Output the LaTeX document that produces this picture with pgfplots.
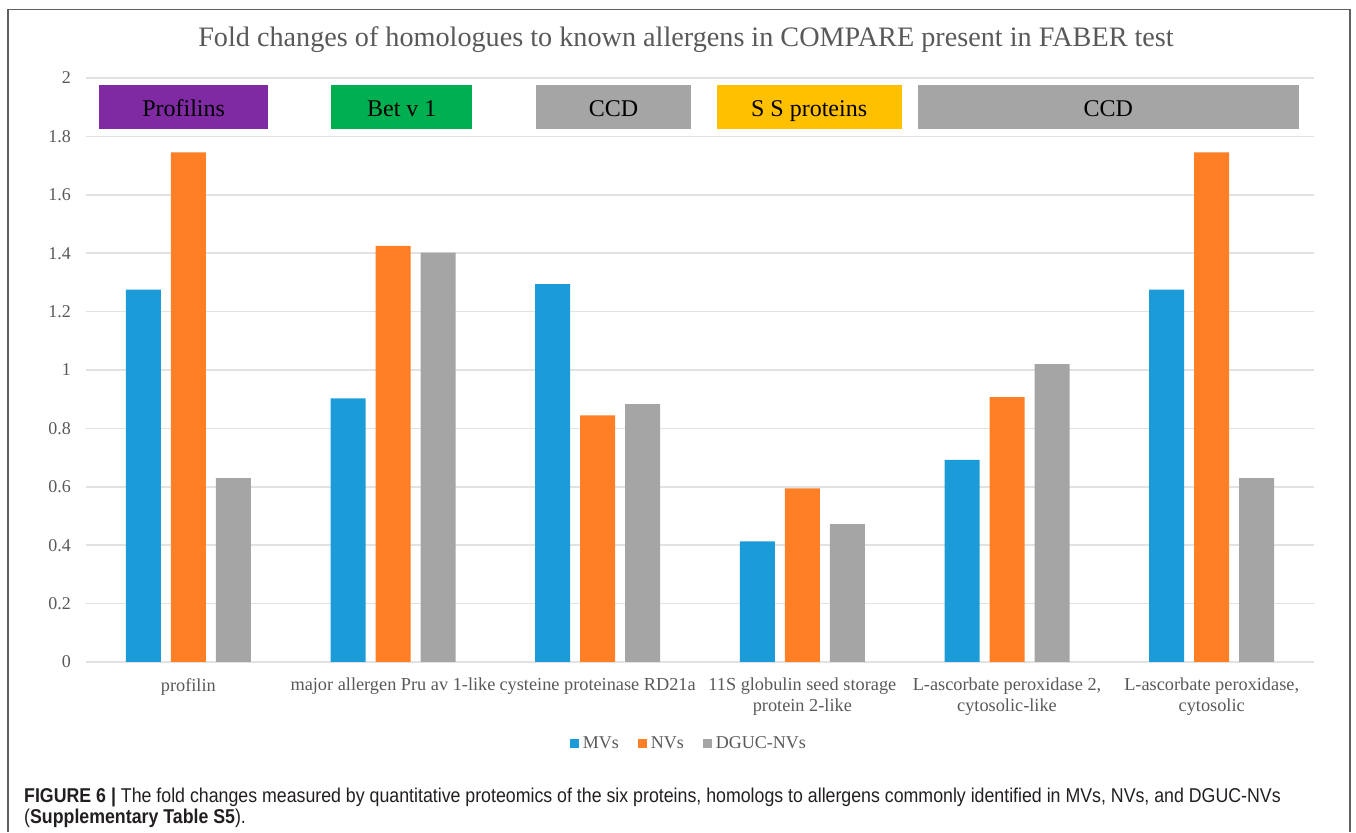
\documentclass[border=0pt]{standalone}
\usepackage{pgfplots}
\pgfplotsset{compat=1.18}
\usepackage{fontspec}
\setmainfont{Liberation Serif}
\newfontfamily\capfont[FakeStretch=0.888]{Liberation Sans}
\definecolor{cblue}{HTML}{1B9BD7}
\definecolor{corange}{HTML}{FF7F27}
\definecolor{cgray}{HTML}{A5A5A5}
\definecolor{cpurple}{HTML}{7F2AA3}
\definecolor{cgreen}{HTML}{00B050}
\definecolor{cyellow}{HTML}{FFC000}
\definecolor{tickgray}{HTML}{595959}
\definecolor{gridgray}{HTML}{E2E2E2}
\definecolor{framegray}{HTML}{606060}
\definecolor{captext}{HTML}{231F20}

\pgfplotstableread{
x MVs NVs DGUC
0 1.275 1.745 0.630
1 0.903 1.425 1.402
2 1.294 0.845 0.883
3 0.413 0.595 0.472
4 0.692 0.907 1.020
5 1.275 1.745 0.630
}\datatable

\begin{document}
\begin{tikzpicture}
\path[use as bounding box] (0pt,0pt) rectangle (1356pt,832pt);
\draw[color=framegray, line width=1.3pt] (8pt,0pt) -- (8pt,822.5pt) -- (1350pt,822.5pt) -- (1350pt,0pt);
\node[anchor=base, font=\fontsize{28.2}{32}\selectfont, text=tickgray, inner sep=0pt] at (686pt,785pt) {Fold changes of homologues to known allergens in COMPARE present in FABER test};

\begin{axis}[
  at={(86pt,170pt)}, anchor=south west,
  scale only axis, width=1228pt, height=584pt,
  xmin=-0.5, xmax=5.5, ymin=0, ymax=2,
  ybar=10pt, bar width=35pt,
  axis x line=bottom, axis y line=left,
  axis line style={-},
  x axis line style={draw=gridgray, line width=1.6pt},
  y axis line style={draw=none},
  major tick length=0pt,
  ytick={0,0.2,...,2.01},
  ymajorgrids, major grid style={draw=gridgray, line width=1.6pt},
  /pgf/number format/assume math mode=true,
  /pgf/number format/fixed,
  /pgf/number format/precision=1,
  yticklabel style={font=\fontsize{18}{21}\selectfont, text=tickgray, anchor=east, inner sep=0pt, xshift=-15pt},
  xtick={0,1,2,3,4,5},
  xticklabels={{profilin}, {major allergen Pru av 1-like}, {cysteine proteinase RD21a}, {11S globulin seed storage\\protein 2-like}, {L-ascorbate peroxidase 2,\\cytosolic-like}, {L-ascorbate peroxidase,\\cytosolic}},
  xticklabel style={font=\fontsize{18.3}{21}\selectfont, text=tickgray, align=center, anchor=north, inner sep=0pt, yshift=-16pt},
  legend columns=3,
  legend style={at={(0.491,-0.1387)}, anchor=center, draw=none, font=\fontsize{18}{21}\selectfont, text=tickgray,
    /tikz/every odd column/.append style={column sep=2pt},
    /tikz/every even column/.append style={column sep=17pt}},
  legend image code/.code={\fill[#1] (0pt,-4.5pt) rectangle (9pt,4.5pt);},
]
\addplot[fill=cblue, draw=none] table[x=x, y=MVs] {\datatable};
\addplot[fill=corange, draw=none] table[x=x, y=NVs] {\datatable};
\addplot[fill=cgray, draw=none] table[x=x, y=DGUC] {\datatable};
\legend{MVs, NVs, DGUC-NVs}

\fill[cpurple] (axis cs:-0.436,1.825) rectangle (axis cs:0.39,1.976);
\fill[cgreen] (axis cs:0.698,1.825) rectangle (axis cs:1.388,1.976);
\fill[cgray] (axis cs:1.70,1.825) rectangle (axis cs:2.454,1.976);
\fill[cyellow] (axis cs:2.581,1.825) rectangle (axis cs:3.485,1.976);
\fill[cgray] (axis cs:3.564,1.825) rectangle (axis cs:5.427,1.976);
\tikzset{boxtext/.style={font=\fontsize{24}{28}\selectfont, anchor=base, inner sep=0pt}}
\node[boxtext] at (axis cs:-0.023,1.868) {Profilins};
\node[boxtext] at (axis cs:1.043,1.868) {Bet v 1};
\node[boxtext] at (axis cs:2.077,1.868) {CCD};
\node[boxtext] at (axis cs:3.033,1.868) {S S proteins};
\node[boxtext] at (axis cs:4.495,1.868) {CCD};
\end{axis}

\node[anchor=base west, inner sep=0pt, text=captext, font=\capfont\fontsize{20}{24}\selectfont] at (24pt,30pt) {\textbf{FIGURE 6 |} The fold changes measured by quantitative proteomics of the six proteins, homologs to allergens commonly identified in MVs, NVs, and DGUC-NVs};
\node[anchor=base west, inner sep=0pt, text=captext, font=\capfont\fontsize{20}{24}\selectfont] at (24pt,9pt) {(\textbf{Supplementary Table S5}).};
\end{tikzpicture}
\end{document}
